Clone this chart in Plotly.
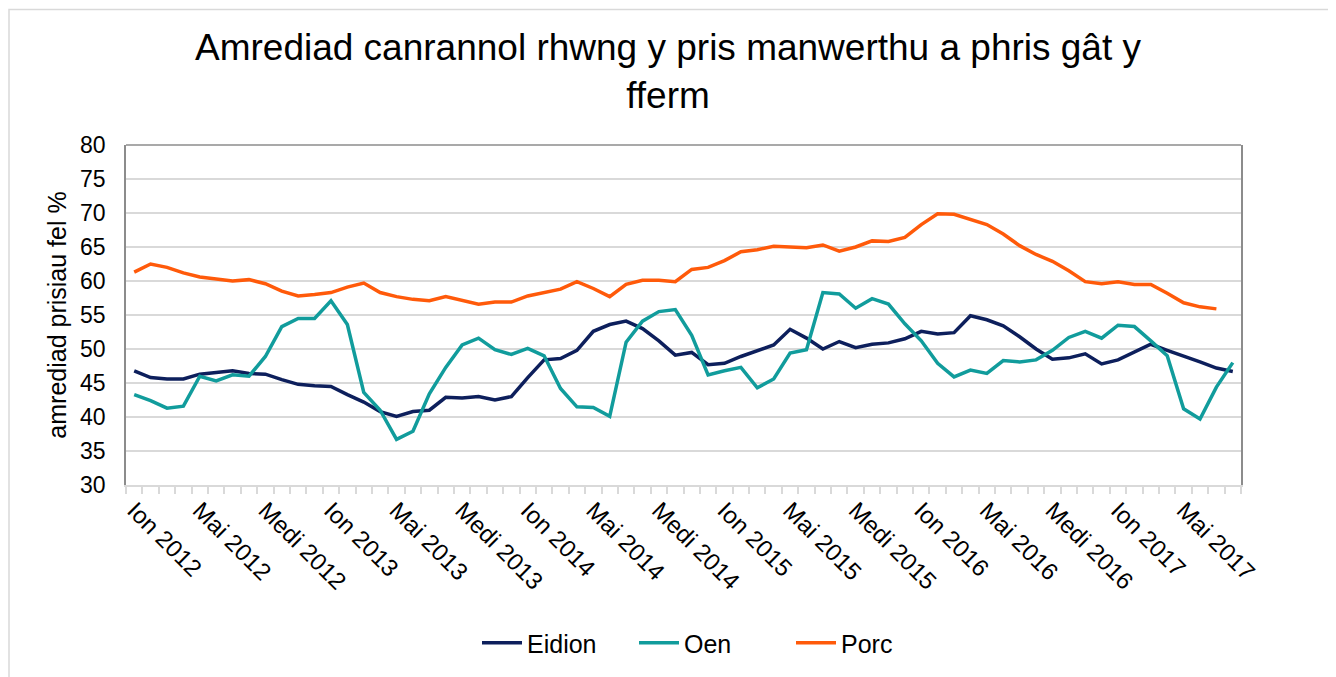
import plotly.graph_objects as go

month_names = ["Ion", "Chwef", "Maw", "Ebr", "Mai", "Meh", "Gorff", "Awst", "Medi", "Hyd", "Tach", "Rhag"]
years = [2012, 2013, 2014, 2015, 2016, 2017]
n_months = 68  # Ion 2012 - Awst 2017
categories = [f"{month_names[k % 12]} {years[k // 12]}" for k in range(n_months)]

eidion = [46.8, 45.8, 45.6, 45.6, 46.3, 46.5, 46.8, 46.4, 46.3, 45.5, 44.8, 44.6,
          44.5, 43.3, 42.2, 40.8, 40.1, 40.8, 41.0, 42.9, 42.8, 43.0, 42.5, 43.0,
          45.8, 48.4, 48.6, 49.8, 52.6, 53.6, 54.1, 53.0, 51.2, 49.1, 49.5, 47.7,
          47.9, 48.9, 49.7, 50.6, 52.9, 51.6, 50.0, 51.1, 50.2, 50.7, 50.9, 51.5,
          52.6, 52.2, 52.4, 54.9, 54.3, 53.4, 51.8, 50.0, 48.5, 48.7, 49.3, 47.8,
          48.4, 49.5, 50.7, 49.8, 49.0, 48.1, 47.2, 46.7]

oen = [43.3, 42.4, 41.3, 41.6, 46.0, 45.3, 46.2, 46.0, 48.9, 53.3, 54.5, 54.5,
       57.1, 53.6, 43.6, 41.0, 36.7, 37.9, 43.4, 47.3, 50.6, 51.6, 49.9, 49.2,
       50.1, 49.0, 44.2, 41.5, 41.4, 40.1, 51.0, 54.1, 55.5, 55.8, 52.0, 46.2,
       46.8, 47.3, 44.3, 45.6, 49.4, 49.9, 58.3, 58.1, 56.0, 57.4, 56.6, 53.7,
       51.2, 47.9, 45.9, 46.9, 46.4, 48.3, 48.1, 48.4, 49.8, 51.7, 52.6, 51.6,
       53.5, 53.3, 51.2, 49.0, 41.2, 39.7, 44.4, 48.0]

porc = [61.3, 62.5, 62.0, 61.2, 60.6, 60.3, 60.0, 60.2, 59.6, 58.5, 57.8, 58.0,
        58.3, 59.1, 59.7, 58.3, 57.7, 57.3, 57.1, 57.7, 57.2, 56.6, 56.9, 56.9,
        57.8, 58.3, 58.8, 59.9, 58.9, 57.7, 59.5, 60.1, 60.1, 59.9, 61.7, 62.0,
        63.0, 64.3, 64.6, 65.1, 65.0, 64.9, 65.3, 64.4, 65.0, 65.9, 65.8, 66.4,
        68.3, 69.9, 69.8, 69.1, 68.3, 66.9, 65.2, 63.9, 62.9, 61.5, 59.9, 59.6,
        59.9, 59.5, 59.5, 58.2, 56.8, 56.2, 55.9, None]

tick_text = [c if k % 4 == 0 else "" for k, c in enumerate(categories)]

series = [("Eidion", eidion, "#0D1F5C", "legend"),
          ("Oen", oen, "#119C9C", "legend2"),
          ("Porc", porc, "#FF5A0A", "legend3")]

FONT = "Liberation Sans, Arial, sans-serif"

# page body adds an 8px offset; figure coordinates below are screen coords minus 8
OFF = 8
W, H = 1336 - OFF, 677 - OFF
L, T = 126 - OFF, 145 - OFF
plot_right, plot_bottom = 1241 - OFF, 486 - OFF
R, B = W - plot_right, H - plot_bottom
pw, ph = plot_right - L, plot_bottom - T

def px_x(x):
    return (x - OFF - L) / pw

def px_y(y):
    return (plot_bottom - (y - OFF)) / ph

fig = go.Figure()
for name, vals, col, lg in series:
    fig.add_trace(go.Scatter(x=categories, y=vals, name=name, mode="lines",
                             line=dict(color=col, width=3.5), legend=lg))

legend_starts = {"legend": 483, "legend2": 640, "legend3": 797}
leg_common = dict(orientation="h", yanchor="middle", y=px_y(643), xanchor="left",
                  font=dict(family=FONT, size=25, color="black"), itemwidth=40,
                  bgcolor="rgba(0,0,0,0)", borderwidth=0)

fig.update_layout(
    width=W, height=H,
    margin=dict(l=L, r=R, t=T, b=B),
    paper_bgcolor="white", plot_bgcolor="white",
    font=dict(family=FONT, color="black", size=23),
    title=dict(text="Amrediad canrannol rhwng y pris manwerthu a phris gât y<br>fferm",
               x=(668 - OFF) / W, xanchor="center", xref="container",
               y=1 - 52 / H, yanchor="middle",
               font=dict(family=FONT, size=37, color="black")),
    showlegend=True,
    legend=dict(x=px_x(legend_starts["legend"] - 6), **leg_common),
    legend2=dict(x=px_x(legend_starts["legend2"] - 6), **leg_common),
    legend3=dict(x=px_x(legend_starts["legend3"] - 6), **leg_common),
    xaxis=dict(type="category", categoryorder="array", categoryarray=categories,
               range=[-0.5, n_months - 0.5],
               tickmode="array", tickvals=categories, ticktext=tick_text,
               tickson="boundaries", ticks="outside", ticklen=7, tickwidth=1.5,
               tickcolor="#d9d9d9", tickangle=45, showgrid=False,
               showline=True, linecolor="#d9d9d9", linewidth=1.5,
               tickfont=dict(family=FONT, size=24)),
    yaxis=dict(range=[30, 80], dtick=5, tick0=30, showgrid=True, gridcolor="#d9d9d9",
               gridwidth=1.5, showline=True, linecolor="#8c8c8c", linewidth=1.5, mirror=True,
               ticks="", ticklabelstandoff=14, zeroline=False,
               tickfont=dict(family=FONT, size=23),
               title=dict(text="amrediad prisiau fel %", standoff=6,
                          font=dict(family=FONT, size=25))),
    shapes=[
        dict(type="line", xref="paper", yref="paper", x0=0, x1=1, y0=1, y1=1,
             line=dict(color="#8c8c8c", width=1.5)),
        dict(type="rect", xref="paper", yref="paper", x0=px_x(9), x1=px_x(1330),
             y0=px_y(690), y1=px_y(9), line=dict(color="#d9d9d9", width=1.5), layer="below"),
    ],
)

fig.write_html("out.html")
